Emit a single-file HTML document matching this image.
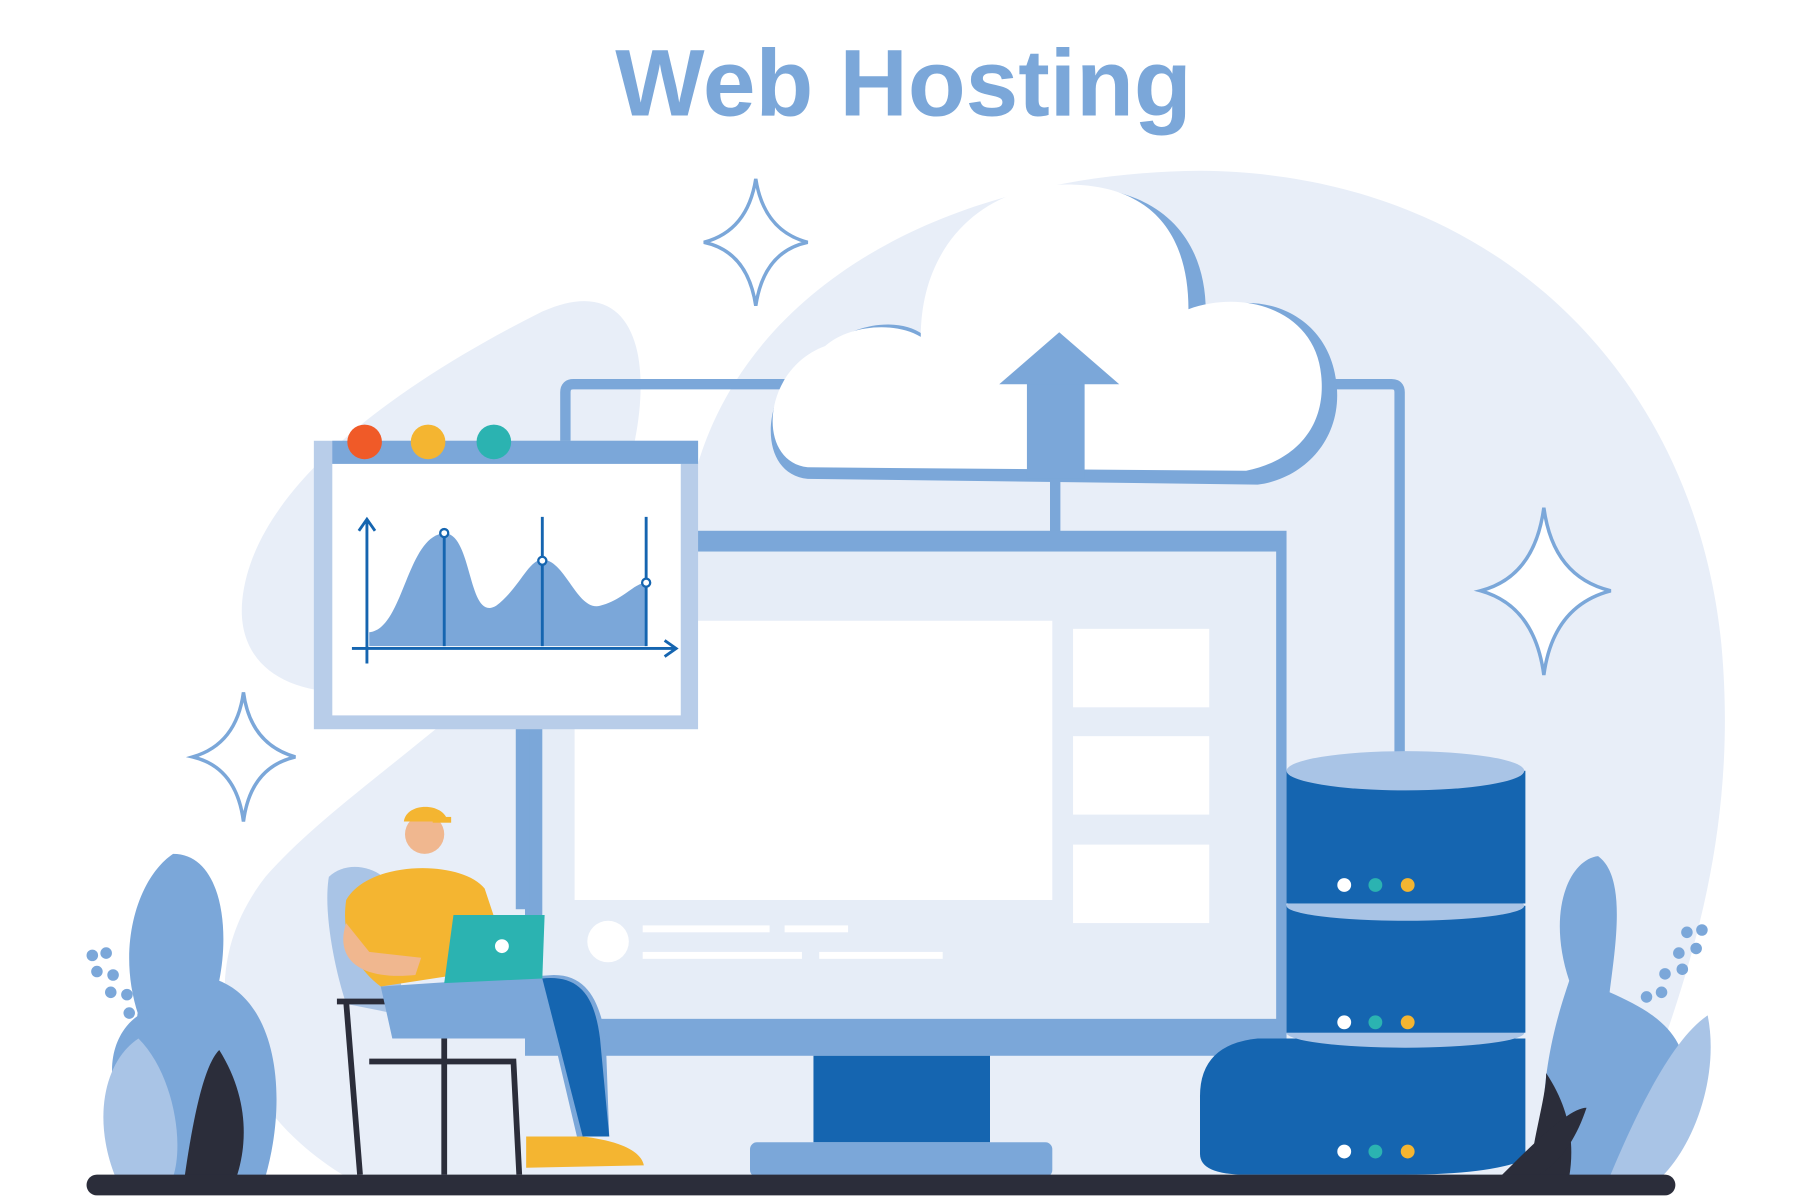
<!DOCTYPE html>
<html><head><meta charset="utf-8"><style>
html,body{margin:0;padding:0;background:#fff;width:1800px;height:1200px;overflow:hidden}
svg{display:block}
</style></head><body>
<svg width="1800" height="1200" viewBox="0 0 1560 1040" preserveAspectRatio="none" xmlns="http://www.w3.org/2000/svg">
<rect width="1560" height="1040" fill="#fff"/>
<!-- background blobs -->
<path d="M600 420 C640 250 820 150 1040 148 C1300 150 1470 330 1492 560 C1510 760 1440 900 1400 1020 L300 1020 C200 960 160 850 230 760 C300 680 420 620 600 420Z" fill="#e8eef8"/>
<path d="M210 520 C220 420 350 330 470 270 C560 230 570 330 540 420 C510 520 420 600 300 600 C240 600 205 570 210 520Z" fill="#e8eef8"/>
<!-- title -->
<text x="783" y="100" text-anchor="middle" font-family="Liberation Sans, sans-serif" font-weight="bold" font-size="82" fill="#7ba7d9">Web Hosting</text>
<!-- connectors -->
<path d="M490 385 L490 340 Q490 333 497 333 L680 333" fill="none" stroke="#7ba7d9" stroke-width="9"/>
<path d="M1150 333 L1206 333 Q1213 333 1213 340 L1213 655" fill="none" stroke="#7ba7d9" stroke-width="9"/>
<!-- cloud -->
<g>
<path d="M700 415 C650 410 660 320 720 300 C740 280 780 275 800 290 C800 210 860 160 935 162 C1010 165 1045 210 1045 270 C1090 250 1150 270 1158 330 C1165 380 1130 415 1090 420 Z" fill="#7ba7d9"/>
<path d="M700 405 C655 400 660 320 715 300 C735 282 775 278 798 292 C798 210 855 158 930 160 C1000 162 1030 205 1030 268 C1080 250 1140 270 1145 325 C1150 372 1120 400 1080 408 Z" fill="#fff"/>
</g>
<!-- arrow -->
<rect x="910" y="415" width="9" height="50" fill="#7ba7d9"/>
<rect x="890" y="330" width="50" height="85" fill="#7ba7d9"/>
<polygon points="866,333 918,288 970,333" fill="#7ba7d9"/>
<!-- monitor -->
<rect x="455" y="460" width="660" height="455" fill="#7ba7d9"/>
<rect x="470" y="478" width="636" height="405" fill="#e6edf7"/>
<rect x="498" y="538" width="414" height="242" fill="#fff"/>
<rect x="930" y="545" width="118" height="68" fill="#fff"/>
<rect x="930" y="638" width="118" height="68" fill="#fff"/>
<rect x="930" y="732" width="118" height="68" fill="#fff"/>
<circle cx="527" cy="816" r="18" fill="#fff"/>
<rect x="557" y="802" width="110" height="6" fill="#fff"/><rect x="680" y="802" width="55" height="6" fill="#fff"/>
<rect x="557" y="825" width="138" height="6" fill="#fff"/><rect x="710" y="825" width="107" height="6" fill="#fff"/>
<rect x="705" y="915" width="153" height="75" fill="#1565b0"/>
<rect x="650" y="990" width="262" height="30" rx="6" fill="#7ba7d9"/>
<!-- pole -->
<rect x="447" y="628" width="12" height="160" fill="#7ba7d9"/>
<!-- browser window -->
<rect x="272" y="382" width="333" height="250" fill="#b8cde9"/>
<rect x="288" y="402" width="302" height="218" fill="#fff"/>
<rect x="288" y="382" width="317" height="20" fill="#7ba7d9"/>
<circle cx="316" cy="383" r="15" fill="#f05a28"/>
<circle cx="371" cy="383" r="15" fill="#f4b531"/>
<circle cx="428" cy="383" r="15" fill="#2bb3b1"/>
<path d="M320 548 C350 545 352 465 385 462 C410 462 405 540 430 525 C450 510 458 485 470 485 C490 485 500 530 520 525 C540 520 550 505 560 505 L560 560 L320 560Z" fill="#7ba7d9"/>
<g stroke="#1565b0" stroke-width="2.5" fill="none">
<path d="M318 575 L318 452 M311 460 L318 450 L325 460"/>
<path d="M305 562 L585 562 M576 555 L586 562 L576 569"/>
<path d="M385 458 L385 560 M470 448 L470 560 M560 448 L560 560"/>
</g>
<g fill="#fff" stroke="#1565b0" stroke-width="2"><circle cx="385" cy="462" r="3.5"/><circle cx="470" cy="486" r="3.5"/><circle cx="560" cy="505" r="3.5"/></g>
<!-- stars -->
<g fill="#fff" stroke="#7ba7d9" stroke-width="3">
<path d="M655 155 Q662 200 700 210 Q662 218 655 265 Q648 218 610 210 Q648 200 655 155Z"/>
<path d="M1338 440 Q1346 500 1396 512 Q1346 525 1338 585 Q1330 525 1283 512 Q1330 500 1338 440Z"/>
<path d="M211 600 Q217 645 256 656 Q217 665 211 712 Q205 665 167 656 Q205 645 211 600Z"/>
</g>
<!-- database -->
<g>
<path d="M1040 1000 L1040 950 Q1040 905 1090 900 L1322 900 L1322 1005 Q1290 1018 1218 1018 L1080 1018 Q1040 1018 1040 1000Z" fill="#1565b0"/>
<ellipse cx="1218" cy="895" rx="103" ry="13" fill="#a9c4e6"/>
<rect x="1115" y="785" width="207" height="110" fill="#1565b0"/>
<ellipse cx="1218" cy="785" rx="103" ry="13" fill="#a9c4e6"/>
<rect x="1115" y="668" width="207" height="115" fill="#1565b0"/>
<ellipse cx="1218" cy="668" rx="103" ry="17" fill="#a9c4e6"/>
<g><circle cx="1165" cy="767" r="6" fill="#fff"/><circle cx="1192" cy="767" r="6" fill="#2bb3b1"/><circle cx="1220" cy="767" r="6" fill="#f4b531"/>
<circle cx="1165" cy="886" r="6" fill="#fff"/><circle cx="1192" cy="886" r="6" fill="#2bb3b1"/><circle cx="1220" cy="886" r="6" fill="#f4b531"/>
<circle cx="1165" cy="998" r="6" fill="#fff"/><circle cx="1192" cy="998" r="6" fill="#2bb3b1"/><circle cx="1220" cy="998" r="6" fill="#f4b531"/></g>
</g>
<!-- plants left -->
<path d="M150 1020 C80 960 90 900 120 880 C100 820 120 760 150 740 C190 740 200 800 190 850 C240 870 250 950 230 1020Z" fill="#7ba7d9"/>
<path d="M100 1020 C80 970 90 920 120 900 C150 930 160 990 150 1020Z" fill="#a9c4e6"/>
<path d="M160 1020 C170 950 180 920 190 910 C215 950 215 990 205 1020Z" fill="#2b2d3a"/>
<g fill="#7ba7d9"><circle cx="80" cy="828" r="5"/><circle cx="92" cy="826" r="5"/><circle cx="84" cy="842" r="5"/><circle cx="98" cy="845" r="5"/><circle cx="96" cy="860" r="5"/><circle cx="110" cy="862" r="5"/><circle cx="112" cy="878" r="5"/><circle cx="124" cy="880" r="5"/></g>
<!-- plants right -->
<path d="M1340 1020 C1330 940 1350 880 1360 850 C1340 790 1360 745 1385 742 C1410 760 1400 820 1395 860 C1440 880 1470 900 1460 960 C1450 1000 1420 1020 1400 1020Z" fill="#7ba7d9"/>
<path d="M1395 1020 C1420 960 1450 900 1480 880 C1490 930 1470 990 1440 1020Z" fill="#a9c4e6"/>
<path d="M1325 1020 C1330 980 1340 950 1340 930 C1360 960 1365 990 1360 1020Z" fill="#2b2d3a"/>
<path d="M1300 1020 C1330 990 1360 960 1375 960 C1365 990 1350 1010 1330 1020Z" fill="#2b2d3a"/>
<g fill="#7ba7d9"><circle cx="1475" cy="806" r="5"/><circle cx="1462" cy="808" r="5"/><circle cx="1470" cy="822" r="5"/><circle cx="1455" cy="826" r="5"/><circle cx="1458" cy="840" r="5"/><circle cx="1443" cy="844" r="5"/><circle cx="1440" cy="860" r="5"/><circle cx="1427" cy="864" r="5"/></g>
<!-- person & chair -->
<path d="M285 760 C300 745 330 750 340 770 L350 880 L300 870 C290 840 280 790 285 760Z" fill="#a9c4e6"/>
<g stroke="#2b2d3a" stroke-width="5" fill="none">
<path d="M292 868 L385 868 L385 1018 M300 868 L312 1018 M385 920 L445 920 L450 1018 M320 920 L385 920"/>
</g>
<path d="M330 855 L480 845 C510 845 520 870 525 900 L528 985 L500 985 L480 900 L340 900 Z" fill="#7ba7d9"/>
<path d="M470 848 C500 845 515 860 520 900 L528 985 L505 985 Z" fill="#1565b0"/>
<path d="M300 780 C320 745 400 745 420 770 L430 800 L400 800 L395 845 L330 855 C310 840 295 815 300 780Z" fill="#f4b531"/>
<path d="M300 800 C290 830 310 850 360 845 L365 830 L320 825 Z" fill="#f0b78f"/>
<circle cx="368" cy="723" r="17" fill="#f0b78f"/>
<path d="M350 712 C352 695 385 695 388 712 Z" fill="#f4b531"/>
<rect x="375" y="708" width="16" height="5" fill="#f4b531"/>
<path d="M393 793 L472 793 L470 848 L385 852 Z" fill="#2bb3b1"/>
<circle cx="435" cy="820" r="6" fill="#fff"/>
<path d="M456 985 L505 985 C530 988 555 995 558 1010 L456 1012 Z" fill="#f4b531"/>
<!-- ground -->
<rect x="75" y="1018" width="1377" height="18" rx="9" fill="#2b2d3a"/>
</svg>
</body></html>
